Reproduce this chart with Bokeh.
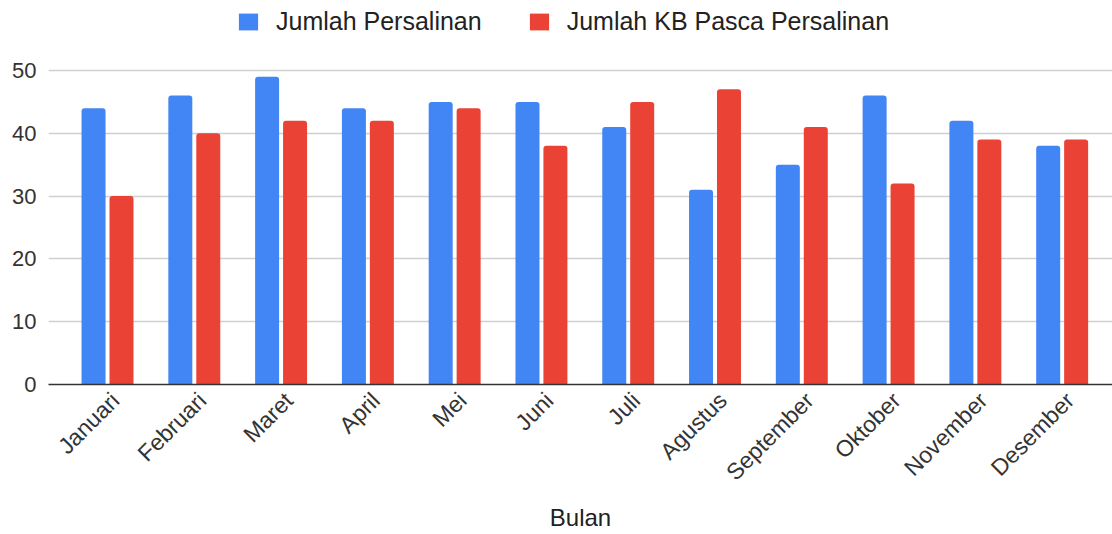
import math
from bokeh.plotting import figure
from bokeh.models import (ColumnDataSource, Range1d, FixedTicker, Legend, LegendItem)
from bokeh.embed import file_html
from bokeh.resources import INLINE

months = ["Januari", "Februari", "Maret", "April", "Mei", "Juni", "Juli",
          "Agustus", "September", "Oktober", "November", "Desember"]
persalinan = [44, 46, 49, 44, 45, 45, 41, 31, 35, 46, 42, 38]
kb_pasca = [30, 40, 42, 42, 44, 38, 45, 47, 41, 32, 39, 39]
series_names = ["Jumlah Persalinan", "Jumlah KB Pasca Persalinan"]
y_ticks = [0, 10, 20, 30, 40, 50]

BLUE = "#4285F4"
RED = "#EA4335"
FONT = "Liberation Sans"

idx = list(range(len(months)))
src = ColumnDataSource(dict(
    x1=[i - 0.161 for i in idx],
    x2=[i + 0.161 for i in idx],
    a=persalinan,
    b=kb_pasca,
))

# frame spans the full top of the figure so the legend (drawn inside) is not clipped;
# value 50 sits 70px below the top, 0 at 384px.
y_top = 50 * 384 / 314
p = figure(width=1112, height=534, output_backend="svg", toolbar_location=None,
           x_range=Range1d(-0.68, 11.58), y_range=Range1d(0, y_top),
           min_border_left=48, min_border_right=0, min_border_top=0,
           min_border_bottom=10)
p.outline_line_color = None
p.background_fill_color = "white"
p.border_fill_color = "white"

bw = 0.2765
r1 = p.vbar(x="x1", top="a", width=bw, source=src, fill_color=BLUE,
            line_color=None, border_radius=(3, 3, 0, 0))
r2 = p.vbar(x="x2", top="b", width=bw, source=src, fill_color=RED,
            line_color=None, border_radius=(3, 3, 0, 0))

# axes
lab_pos = [i + 0.09 for i in idx]
p.xaxis.ticker = FixedTicker(ticks=lab_pos)
p.xaxis.major_label_overrides = {t: m for t, m in zip(lab_pos, months)}
p.xaxis.major_label_orientation = math.pi / 4
p.xaxis.major_label_text_font = FONT
p.xaxis.major_label_text_font_size = "23px"
p.xaxis.major_label_text_color = "#333333"
p.xaxis.major_tick_line_color = None
p.xaxis.major_tick_out = 0
p.xaxis.major_tick_in = 0
p.xaxis.minor_tick_line_color = None
p.xaxis.axis_line_color = "#333333"
p.xaxis.axis_line_width = 1.5
p.xaxis.major_label_standoff = 12
p.xaxis.axis_label = "Bulan"
p.xaxis.axis_label_text_font = FONT
p.xaxis.axis_label_text_font_size = "24px"
p.xaxis.axis_label_text_font_style = "normal"
p.xaxis.axis_label_text_color = "#222222"
p.xaxis.axis_label_standoff = 7

p.yaxis.ticker = FixedTicker(ticks=y_ticks)
p.yaxis.major_label_text_font = FONT
p.yaxis.major_label_text_font_size = "22px"
p.yaxis.major_label_text_color = "#333333"
p.yaxis.major_tick_line_color = None
p.yaxis.major_tick_out = 0
p.yaxis.major_tick_in = 0
p.yaxis.minor_tick_line_color = None
p.yaxis.axis_line_color = None
p.yaxis.major_label_standoff = 12

p.xgrid.grid_line_color = None
p.ygrid.ticker = FixedTicker(ticks=y_ticks[1:])
p.ygrid.grid_line_color = "#d0d0d0"
p.ygrid.grid_line_width = 1.5

legend = Legend(items=[LegendItem(label=series_names[0], renderers=[r1]),
                       LegendItem(label=series_names[1], renderers=[r2])],
                orientation="horizontal", location=(188, 348),
                glyph_width=24, glyph_height=21, label_standoff=16, spacing=45,
                label_text_font=FONT, label_text_font_size="25px",
                label_text_color="#222222", border_line_color=None,
                background_fill_alpha=0, padding=0, margin=0)
p.add_layout(legend, "center")

open("out.html", "w").write(file_html(p, INLINE))
